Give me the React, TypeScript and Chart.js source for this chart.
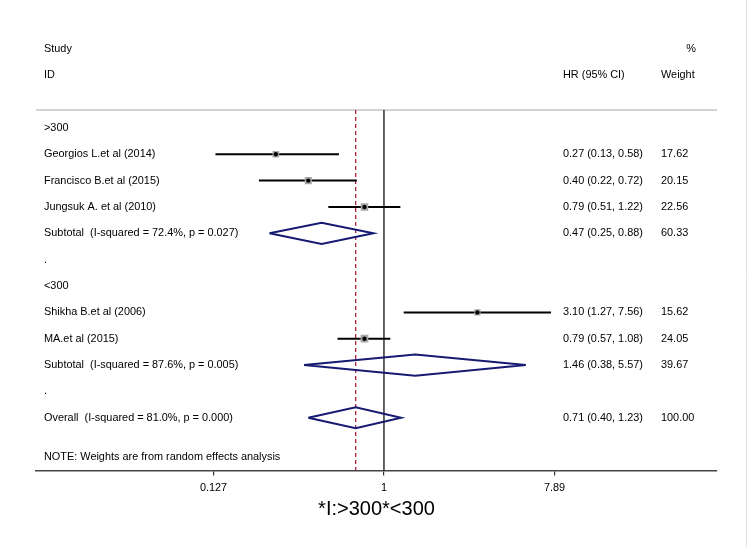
import React, { useEffect, useRef } from 'react';
import { Chart, registerables } from 'chart.js';

Chart.register(...registerables);

// ---- data ----
const studyNames = [
  'Georgios L.et al (2014)',
  'Francisco B.et al (2015)',
  'Jungsuk A. et al (2010)',
  'Shikha B.et al (2006)',
  'MA.et al (2015)',
];
const studyHR = [0.27, 0.4, 0.79, 3.1, 0.79];
const studyLo = [0.13, 0.22, 0.51, 1.27, 0.57];
const studyHi = [0.58, 0.72, 1.22, 7.56, 1.08];
const studyWeight = [17.62, 20.15, 22.56, 15.62, 24.05];
const studyRow = [1, 2, 3, 7, 8];

const pooledNames = [
  'Subtotal  (I-squared = 72.4%, p = 0.027)',
  'Subtotal  (I-squared = 87.6%, p = 0.005)',
  'Overall  (I-squared = 81.0%, p = 0.000)',
];
const pooledHR = [0.47, 1.46, 0.71];
const pooledLo = [0.25, 0.38, 0.4];
const pooledHi = [0.88, 5.57, 1.23];
const pooledWeight = [60.33, 39.67, 100.0];
const pooledRow = [4, 9, 11];

const groupLabels = ['>300', '<300'];
const groupRows = [0, 6];
const spacerRows = [5, 10];

const headerTopRow = -3;
const headerBottomRow = -2;
const noteRow = 12.5;
const noteText = 'NOTE: Weights are from random effects analysis';

const tickValues = [0.127, 1, 7.89];
const tickLabels = ['0.127', '1', '7.89'];
const axisTitle = '*I:>300*<300';
const nullValue = 1;

// ---- styles ----
const FONT = '"Liberation Sans", Arial, Helvetica, sans-serif';
const TEXT_SIZE = 10.9;
const TEXT_COLOR = '#000';
const NAVY = '#161a70';
const RED = '#a8283f';
const X_MIN = 0.0148;
const X_MAX = 56.4;
const Y_MIN = -4;
const Y_MAX = 13;
const LINE_TOP = -0.68;
const DIAMOND_HALF = 0.4;

const fmt = (v: number) => v.toFixed(2);

const textPlugin = {
  id: 'forestText',
  beforeDatasetsDraw(chart: any) {
    const { ctx, chartArea } = chart;
    const ys = chart.scales.y;
    ctx.save();
    ctx.strokeStyle = '#c4c4c4';
    ctx.lineWidth = 1.5;
    ctx.beginPath();
    const yy = ys.getPixelForValue(LINE_TOP);
    ctx.moveTo(chartArea.left, yy);
    ctx.lineTo(chartArea.right, yy);
    ctx.stroke();
    ctx.restore();
  },
  afterDraw(chart: any) {
    const { ctx } = chart;
    const ys = chart.scales.y;
    const colLabel = 44;
    const colHR = 563;
    const colW = 661;
    const colWRight = 696;
    ctx.save();
    ctx.font = `${TEXT_SIZE}px ${FONT}`;
    ctx.fillStyle = TEXT_COLOR;
    ctx.textBaseline = 'middle';
    ctx.textAlign = 'left';
    const put = (t: string, x: number, row: number, align: CanvasTextAlign = 'left') => {
      ctx.textAlign = align;
      ctx.fillText(t, x, ys.getPixelForValue(row));
    };
    put('Study', colLabel, headerTopRow);
    put('%', colWRight, headerTopRow, 'right');
    put('ID', colLabel, headerBottomRow);
    put('HR (95% CI)', colHR, headerBottomRow);
    put('Weight', colW, headerBottomRow);
    groupLabels.forEach((g, i) => put(g, colLabel, groupRows[i]));
    spacerRows.forEach((r) => put('.', colLabel, r));
    studyNames.forEach((n, i) => {
      put(n, colLabel, studyRow[i]);
      put(`${fmt(studyHR[i])} (${fmt(studyLo[i])}, ${fmt(studyHi[i])})`, colHR, studyRow[i]);
      put(fmt(studyWeight[i]), colW, studyRow[i]);
    });
    pooledNames.forEach((n, i) => {
      put(n, colLabel, pooledRow[i]);
      put(`${fmt(pooledHR[i])} (${fmt(pooledLo[i])}, ${fmt(pooledHi[i])})`, colHR, pooledRow[i]);
      put(fmt(pooledWeight[i]), colW, pooledRow[i]);
    });
    put(noteText, colLabel, noteRow);
    // faint figure border on the right
    ctx.strokeStyle = '#e2e2e2';
    ctx.lineWidth = 1;
    ctx.beginPath();
    ctx.moveTo(746.5, 0);
    ctx.lineTo(746.5, chart.height);
    ctx.stroke();
    ctx.restore();
  },
};

export default function App() {
  const ref = useRef<HTMLCanvasElement | null>(null);

  useEffect(() => {
    if (!ref.current) return;
    const datasets: any[] = [];

    // point estimates (on top)
    datasets.push({
      label: 'points',
      data: studyHR.map((v, i) => ({ x: v, y: studyRow[i] })),
      pointStyle: 'circle',
      pointRadius: 2.2,
      backgroundColor: '#000',
      borderColor: '#000',
      borderWidth: 0,
      order: 0,
    });
    // weight boxes
    datasets.push({
      label: 'boxes',
      data: studyHR.map((v, i) => ({ x: v, y: studyRow[i] })),
      pointStyle: 'rect',
      pointRadius: studyWeight.map((w) => 1.12 * Math.sqrt(w)),
      backgroundColor: '#a8a8a8',
      borderWidth: 0,
      order: 1,
    });
    // confidence intervals
    studyHR.forEach((_, i) => {
      datasets.push({
        label: 'ci' + i,
        data: [
          { x: studyLo[i], y: studyRow[i] },
          { x: studyHi[i], y: studyRow[i] },
        ],
        showLine: true,
        borderColor: '#000',
        borderWidth: 2,
        pointRadius: 0,
        order: 2,
      });
    });
    // pooled diamonds
    pooledHR.forEach((v, i) => {
      const r = pooledRow[i];
      datasets.push({
        label: 'diamond' + i,
        data: [
          { x: pooledLo[i], y: r },
          { x: v, y: r - DIAMOND_HALF },
          { x: pooledHi[i], y: r },
          { x: v, y: r + DIAMOND_HALF },
          { x: pooledLo[i], y: r },
        ],
        showLine: true,
        borderColor: NAVY,
        borderWidth: 2,
        borderJoinStyle: 'miter',
        pointRadius: 0,
        tension: 0,
        fill: false,
        order: 3,
      });
    });
    // null line
    datasets.push({
      label: 'null',
      data: [
        { x: nullValue, y: LINE_TOP },
        { x: nullValue, y: Y_MAX },
      ],
      showLine: true,
      borderColor: '#111',
      borderWidth: 1.3,
      pointRadius: 0,
      order: 4,
    });
    // overall estimate line
    datasets.push({
      label: 'overall',
      data: [
        { x: pooledHR[2], y: LINE_TOP },
        { x: pooledHR[2], y: Y_MAX },
      ],
      showLine: true,
      borderColor: RED,
      borderWidth: 1.3,
      borderDash: [4, 3],
      pointRadius: 0,
      order: 5,
    });

    const chart = new Chart(ref.current, {
      type: 'scatter',
      data: { datasets },
      options: {
        animation: false,
        responsive: true,
        maintainAspectRatio: false,
        events: [],
        layout: { padding: { left: 36, right: 33, top: 22.5, bottom: 0 } },
        plugins: { legend: { display: false }, tooltip: { enabled: false } },
        scales: {
          x: {
            type: 'logarithmic',
            min: X_MIN,
            max: X_MAX,
            bounds: 'data',
            afterBuildTicks: (axis: any) => {
              axis.ticks = tickValues.map((v) => ({ value: v }));
            },
            afterFit: (axis: any) => {
              axis.height = 76.5;
            },
            ticks: {
              callback: (_v: any, i: number) => tickLabels[i],
              autoSkip: false,
              maxRotation: 0,
              padding: 6,
              color: TEXT_COLOR,
              font: { family: FONT, size: TEXT_SIZE },
            },
            grid: {
              drawOnChartArea: false,
              drawTicks: true,
              tickLength: 5,
              color: '#333',
              lineWidth: 1.2,
            },
            border: { display: true, color: '#444', width: 1.6 },
            title: {
              display: true,
              text: axisTitle,
              color: '#000',
              font: { family: FONT, size: 20 },
              padding: { top: 0, bottom: 26 },
            },
          },
          y: {
            type: 'linear',
            reverse: true,
            min: Y_MIN,
            max: Y_MAX,
            display: false,
          },
        },
      },
      plugins: [textPlugin],
    } as any);
    return () => chart.destroy();
  }, []);

  return (
    <div
      style={{
        position: 'fixed',
        left: 0,
        top: 0,
        width: 750,
        height: 547,
        background: '#fff',
      }}
    >
      <canvas ref={ref} />
    </div>
  );
}
